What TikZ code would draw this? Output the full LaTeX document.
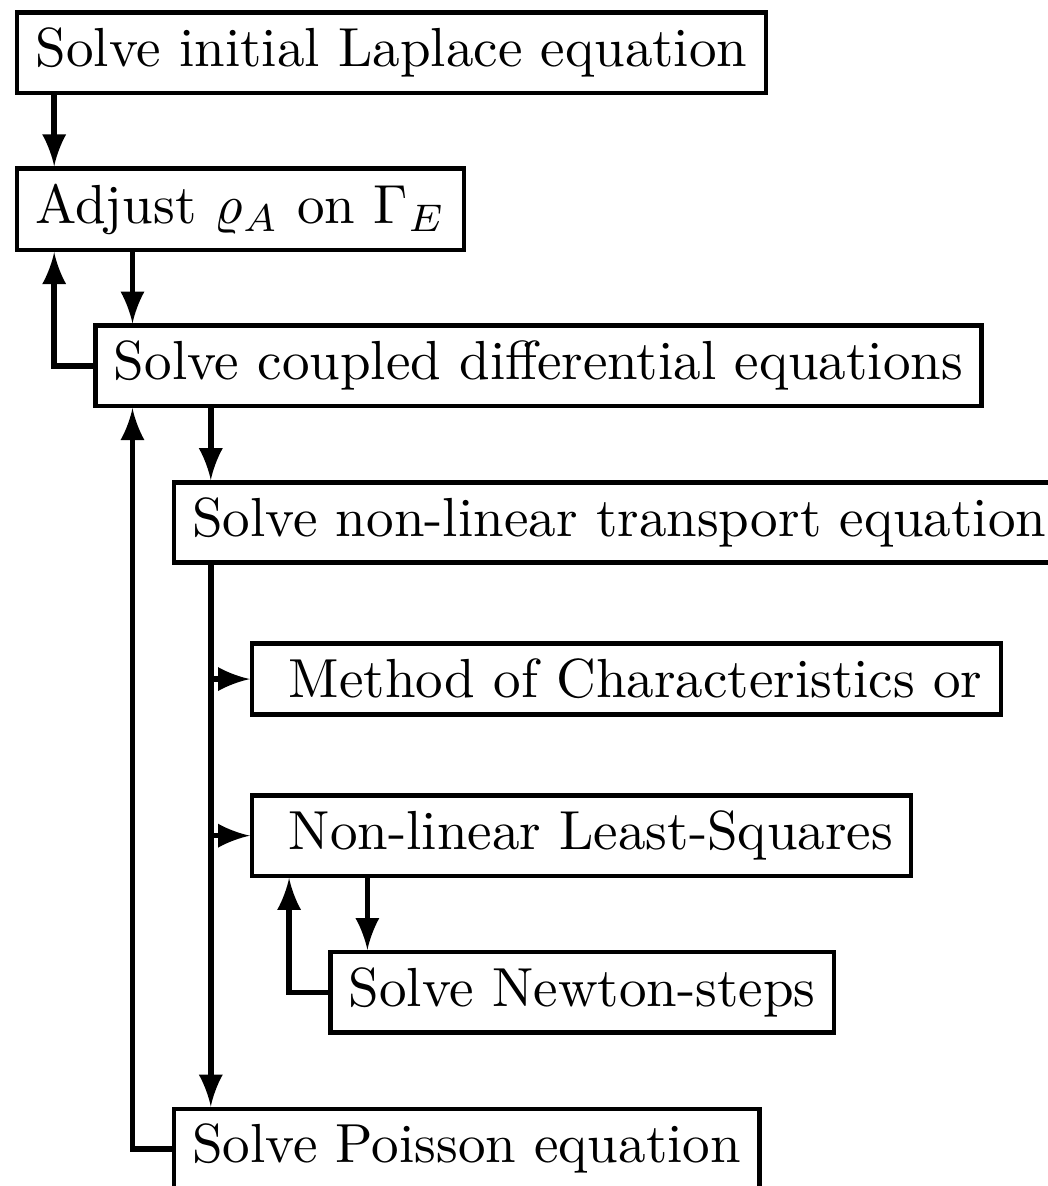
\documentclass[tikz,border=0pt]{standalone}
\usepackage{amsmath, amssymb}
\tikzset{
  block/.style={draw, thick, anchor=west, inner ysep=2.8pt},
  flow/.style={line width=1pt, -latex},
}
\begin{document}
\begin{tikzpicture}[x=0.5cm, y=1cm] % {{{
\useasboundingbox (-0.192,0.336) rectangle (13.192,-7.237);
\clip (-0.192,0.336) rectangle (13.192,-7.237);
% Boxes {{{
\node[block] (laplace)   at (0,0)  {Solve initial Laplace equation};
\node[block] (adjust)    at (0,-1) {Adjust $\varrho_A$ on $\Gamma_E$};
\node[block] (coupled)   at (1,-2) {Solve coupled differential equations};
\node[block] (transport) at (2,-3) {Solve non-linear transport equation};
\node[block] (charac)    at (3,-4) {\ Method of Characteristics or};
\node[block] (lsq)       at (3,-5) {\ Non-linear Least-Squares};
\node[block] (newton)    at (4,-6) {Solve Newton-steps};
\node[block] (poisson)   at (2,-7) {Solve Poisson equation};
% }}}
% Outer loop {{{
\draw[flow] ([xshift=0.25cm]laplace.south west) -- ([xshift=0.25cm]laplace.south west |- adjust.north);
\draw[flow] ([xshift=0.75cm]adjust.south west) -- ([xshift=0.75cm]adjust.south west |- coupled.north);
\draw[flow] (coupled.west) -| ([xshift=0.25cm]adjust.south west);
% }}}
% Inner loop {{{
\draw[flow] ([xshift=0.75cm]coupled.south west) -- ([xshift=0.75cm]coupled.south west |- transport.north);
\draw[flow] ([xshift=0.25cm]transport.south west) -- ([xshift=0.25cm]transport.south west |- poisson.north);
\foreach \b in {charac, lsq} {
  \draw[flow] ([xshift=0.25cm]transport.south west |- \b.west) -- (\b.west);
}
\draw[flow] (poisson.west) -| ([xshift=0.25cm]coupled.south west);
% }}}
% Newton {{{
\draw[flow] ([xshift=0.75cm]lsq.south west) -- ([xshift=0.75cm]lsq.south west |- newton.north);
\draw[flow] (newton.west) -| ([xshift=0.25cm]lsq.south west);
% }}}
\end{tikzpicture} % }}}
\end{document}
